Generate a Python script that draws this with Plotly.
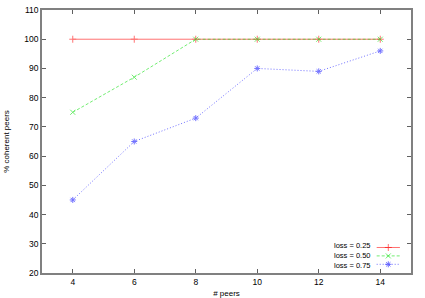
import plotly.graph_objects as go

peers = [4, 6, 8, 10, 12, 14]
loss_025 = [100, 100, 100, 100, 100, 100]
loss_050 = [75, 87, 100, 100, 100, 100]
loss_075 = [45, 65, 73, 90, 89, 96]
series_names = ["loss = 0.25", "loss = 0.50", "loss = 0.75"]
x_ticks = [4, 6, 8, 10, 12, 14]
y_ticks = [20, 30, 40, 50, 60, 70, 80, 90, 100, 110]

colors = ["#ff0000", "#00e000", "#0000ff"]
dashes = ["solid", "3px,2px", "1px,2px"]
symbols = ["cross-thin-open", "x-thin-open", "asterisk-open"]

FONT = "Liberation Sans, Arial, sans-serif"

fig = go.Figure()
for ys, name, c, d, s in zip([loss_025, loss_050, loss_075], series_names, colors, dashes, symbols):
    fig.add_trace(go.Scatter(
        x=peers, y=ys, name=name, mode="lines+markers",
        line=dict(color=c, width=1, dash=d),
        marker=dict(symbol=s, size=5, color=c, line=dict(color=c, width=1)),
        opacity=0.55, showlegend=False,
    ))

# gnuplot-style key: text (right aligned) then sample line, bottom right
LS = 7.5
row_y = [0.097, 0.065, 0.033]
fig.add_annotation(x=0.893, y=0.065, xref="paper", yref="paper",
                   text="<br>".join(series_names), align="right",
                   showarrow=False, xanchor="right", yanchor="middle",
                   font=dict(family=FONT, size=LS, color="#000000"))
for name, c, d, s, yy in zip(series_names, colors, dashes, symbols, row_y):
    fig.add_shape(type="line", xref="paper", yref="paper",
                  x0=0.907, x1=0.970, y0=yy, y1=yy,
                  line=dict(color=c, width=1, dash=d), opacity=0.55)
    fig.add_trace(go.Scatter(
        x=[0.9385], y=[yy], xaxis="x2", yaxis="y2", mode="markers",
        marker=dict(symbol=s, size=5, color=c, line=dict(color=c, width=1)),
        opacity=0.55, showlegend=False, hoverinfo="skip",
    ))

axis_common = dict(
    showline=True, linecolor="#808080", linewidth=1.5, mirror="ticks",
    ticks="inside", ticklen=4, tickcolor="#606060", tickwidth=1,
    showgrid=False, zeroline=False, automargin=False,
    tickfont=dict(family=FONT, size=8.5, color="#000000"),
)

fig.update_layout(
    width=425, height=298,
    margin=dict(l=42, r=14, t=10, b=25),
    paper_bgcolor="white", plot_bgcolor="white",
    font=dict(family=FONT, size=8.5, color="#000000"),
    showlegend=False,
    xaxis=dict(range=[3, 15], tickvals=x_ticks,
               title=dict(text="# peers", standoff=4, font=dict(family=FONT, size=8)),
               **axis_common),
    yaxis=dict(range=[20, 110], tickvals=y_ticks,
               title=dict(text="% coherent peers", standoff=14, font=dict(family=FONT, size=8)),
               **axis_common),
    xaxis2=dict(range=[0, 1], overlaying="x", visible=False, fixedrange=True),
    yaxis2=dict(range=[0, 1], overlaying="y", visible=False, fixedrange=True),
)

fig.write_html("out.html",
               config={"displayModeBar": False},
               post_script="document.body.style.margin='0';document.body.style.overflow='hidden';")
